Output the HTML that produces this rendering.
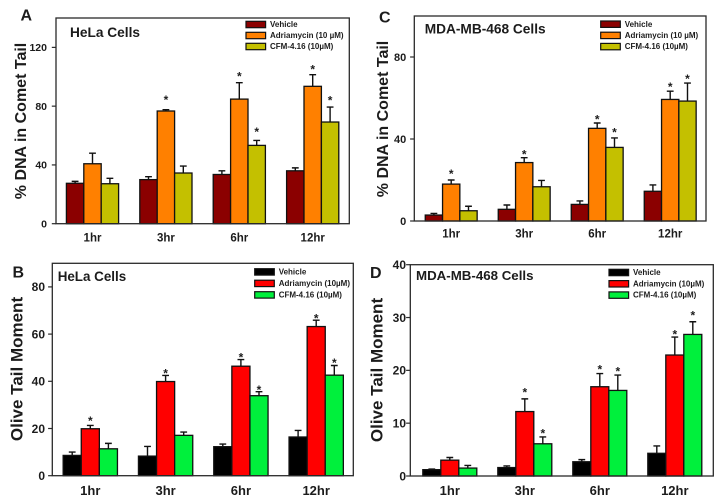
<!DOCTYPE html>
<html>
<head>
<meta charset="utf-8">
<title>Comet assay panels</title>
<style>
html,body{margin:0;padding:0;background:#fff;width:725px;height:502px;overflow:hidden}
svg{display:block;filter:blur(0.35px)}
text{font-family:"Liberation Sans",sans-serif;font-weight:bold;fill:#1c1c1c}
</style>
</head>
<body>
<svg id="figure" xmlns="http://www.w3.org/2000/svg" width="725" height="502" viewBox="0 0 725 502"></svg>
<script>
// Shared categories
const categories = ["1hr", "3hr", "6hr", "12hr"];

// Panel A values
const aVehicle = [27.5, 30, 33.5, 36];
const aVehicleErr = [28.8, 32, 36, 38];
const aAdria = [40.8, 76.7, 84.8, 93.5];
const aAdriaErr = [48, 77.6, 96, 101.4];
const aCfm = [27.2, 34.5, 53.3, 69.2];
const aCfmErr = [30.9, 39.2, 56.7, 79.4];
const aAdriaStars = [null, 85.8, 101.9, 106.6];
const aCfmStars = [null, null, 64, 85.5];
const aTicks = [0, 40, 80, 120];

// Panel B values
const bVehicle = [8.6, 8.3, 12.3, 16.4];
const bVehicleErr = [10, 12.4, 13.4, 19.2];
const bAdria = [19.9, 39.9, 46.4, 63.2];
const bAdriaErr = [21.3, 42.5, 49.2, 65.9];
const bCfm = [11.4, 17.1, 33.9, 42.6];
const bCfmErr = [13.7, 18.5, 35.6, 46.7];
const bAdriaStars = [24.3, 44.4, 51.1, 67.7];
const bCfmStars = [null, null, 37.4, 48.7];
const bTicks = [0, 20, 40, 60, 80];

// Panel C values
const cVehicle = [2.9, 5.7, 8.1, 14.5];
const cVehicleErr = [3.7, 7.8, 9.8, 17.6];
const cAdria = [18, 28.5, 45.2, 59.3];
const cAdriaErr = [20, 30.9, 47.8, 63.3];
const cCfm = [5, 16.7, 35.9, 58.5];
const cCfmErr = [7.2, 19.8, 40.5, 67.3];
const cAdriaStars = [24.2, 33.7, 50.7, 66.5];
const cCfmStars = [null, null, 44.4, 70.4];
const cTicks = [0, 40, 80];

// Panel D values
const dVehicle = [1.2, 1.6, 2.7, 4.3];
const dVehicleErr = [1.3, 1.9, 3.1, 5.7];
const dAdria = [3, 12.2, 16.9, 22.9];
const dAdriaErr = [3.5, 14.6, 19.4, 26.3];
const dCfm = [1.5, 6.1, 16.2, 26.8];
const dCfmErr = [2, 7.4, 19.1, 29.2];
const dAdriaStars = [null, 16.3, 20.6, 27.2];
const dCfmStars = [null, 8.5, 20.2, 30.8];
const dTicks = [0, 10, 20, 30, 40];

const NS = "http://www.w3.org/2000/svg";
const fig = document.getElementById("figure");

function node(parent, tag, props, content) {
  const el = document.createElementNS(NS, tag);
  for (const k in props) el.setAttribute(k, props[k]);
  if (content !== undefined) el.textContent = content;
  parent.appendChild(el);
  return el;
}

function drawPanel(p) {
  const g = node(fig, "g", {});
  
  

  const yOf = v => p.bottom - (v / p.yMax) * (p.bottom - p.top);
  const groupCenter = i => p.x0 + i * p.step;
  const barLeft = (i, s) => groupCenter(i) + (s - 1.5) * p.barW;

  const letter = node(g, "text", {x: p.letter[0], y: p.letter[1], "font-size": 16}, p.id);
  
  

  const sub = node(g, "text", {x: p.title[0], y: p.title[1], "font-size": p.title[2]}, p.titleText);
  
  

  p.series.forEach((s, si) => {
    categories.forEach((cat, i) => {
      const x = barLeft(i, si);
      const cx = x + p.barW / 2;
      const err = node(g, "path", {
        d: "M" + cx + " " + yOf(s.values[i]) + "V" + yOf(s.errors[i]) +
           "M" + (cx - 3.4) + " " + yOf(s.errors[i]) + "H" + (cx + 3.4),
        fill: "none", stroke: "#111", "stroke-width": 1.4
      });
      
      
    });
  });

  p.series.forEach((s, si) => {
    categories.forEach((cat, i) => {
      const x = barLeft(i, si);
      const bar = node(g, "rect", {
        x: x, y: yOf(s.values[i]), width: p.barW,
        height: p.bottom - yOf(s.values[i]),
        fill: s.color, stroke: "#111", "stroke-width": 1.3
      });
      
      
      if (s.stars && s.stars[i] !== null) {
        const star = node(g, "text", {
          x: x + p.barW / 2, y: yOf(s.stars[i]) + 6.4,
          "font-size": 12, "text-anchor": "middle"
        }, "*");
        
        
      }
    });
  });

  const frame = node(g, "rect", {
    x: p.left, y: p.top, width: p.right - p.left, height: p.bottom - p.top,
    fill: "none", stroke: "#2a2a2a", "stroke-width": 1.3
  });
  
  

  p.ticks.forEach(t => {
    const tick = node(g, "line", {
      x1: p.left - 4.2, x2: p.left, y1: yOf(t), y2: yOf(t),
      stroke: "#2a2a2a", "stroke-width": 1.2
    });
    
    
    const lab = node(g, "text", {
      x: p.tickLabelX, y: yOf(t) + p.tickFont * 0.36,
      "font-size": p.tickFont, "text-anchor": "end"
    }, t);
    
    
  });

  categories.forEach((cat, i) => {
    const lab = node(g, "text", {
      x: groupCenter(i), y: p.xLabelY, "font-size": p.xFont, "text-anchor": "middle"
    }, cat);
    
    
  });

  const yt = node(g, "text", {
    x: 0, y: 0, "font-size": p.yTitle[2], "text-anchor": "middle",
    transform: "translate(" + p.yTitle[0] + " " + p.yTitle[1] + ") rotate(-90)"
  }, p.yTitleText);
  
  

  p.series.forEach((s, si) => {
    const swatch = node(g, "rect", {
      x: p.legendX, y: p.legendY + si * p.legendStep, width: 19.6, height: 6.4,
      fill: s.color, stroke: "#111", "stroke-width": 1.2
    });
    
    
    const lab = node(g, "text", {
      x: p.legendX + 24, y: p.legendY + si * p.legendStep + 5.8, "font-size": 8
    }, s.label);
    
    
  });
}

drawPanel({
  id: "A", left: 56, right: 349.3, top: 18, bottom: 223.7, yMax: 140, ticks: aTicks,
  x0: 92.5, step: 73.4, barW: 17.4, tickLabelX: 47, tickFont: 10.5, xLabelY: 241.5, xFont: 11.5,
  letter: [20.5, 20.7], title: [70, 37, 13.7], titleText: "HeLa Cells",
  yTitle: [26, 121, 16], yTitleText: "% DNA in Comet Tail",
  legendX: 246, legendY: 21.3, legendStep: 11,
  series: [
    {key: "vehicle", label: "Vehicle", color: "#8b0000", values: aVehicle, errors: aVehicleErr},
    {key: "adriamycin", label: "Adriamycin (10 µM)", color: "#ff8000", values: aAdria, errors: aAdriaErr, stars: aAdriaStars},
    {key: "cfm", label: "CFM-4.16 (10µM)", color: "#c4c000", values: aCfm, errors: aCfmErr, stars: aCfmStars}
  ]
});

drawPanel({
  id: "B", left: 52.3, right: 353.3, top: 263.3, bottom: 475.7, yMax: 90, ticks: bTicks,
  x0: 90.3, step: 75.3, barW: 18.1, tickLabelX: 45, tickFont: 12, xLabelY: 495, xFont: 13,
  letter: [12.5, 277.7], title: [57.7, 281, 13.4], titleText: "HeLa Cells",
  yTitle: [22.5, 369, 17], yTitleText: "Olive Tail Moment",
  legendX: 254.7, legendY: 268.7, legendStep: 11.5,
  series: [
    {key: "vehicle", label: "Vehicle", color: "#000000", values: bVehicle, errors: bVehicleErr},
    {key: "adriamycin", label: "Adriamycin (10µM)", color: "#ff0000", values: bAdria, errors: bAdriaErr, stars: bAdriaStars},
    {key: "cfm", label: "CFM-4.16 (10µM)", color: "#00f03c", values: bCfm, errors: bCfmErr, stars: bCfmStars}
  ]
});

drawPanel({
  id: "C", left: 414.3, right: 706, top: 16, bottom: 221, yMax: 100, ticks: cTicks,
  x0: 451.2, step: 73, barW: 17.3, tickLabelX: 406.3, tickFont: 11, xLabelY: 237.7, xFont: 11.5,
  letter: [379, 22.7], title: [424.7, 33.3, 13.7], titleText: "MDA-MB-468 Cells",
  yTitle: [388, 119, 16], yTitleText: "% DNA in Comet Tail",
  legendX: 600.7, legendY: 21, legendStep: 11.2,
  series: [
    {key: "vehicle", label: "Vehicle", color: "#8b0000", values: cVehicle, errors: cVehicleErr},
    {key: "adriamycin", label: "Adriamycin (10 µM)", color: "#ff8000", values: cAdria, errors: cAdriaErr, stars: cAdriaStars},
    {key: "cfm", label: "CFM-4.16 (10µM)", color: "#c4c000", values: cCfm, errors: cCfmErr, stars: cCfmStars}
  ]
});

drawPanel({
  id: "D", left: 410.3, right: 713.3, top: 264.7, bottom: 476, yMax: 40, ticks: dTicks,
  x0: 449.8, step: 75, barW: 18, tickLabelX: 406, tickFont: 12, xLabelY: 495, xFont: 13,
  letter: [370, 278], title: [416, 280, 13.3], titleText: "MDA-MB-468 Cells",
  yTitle: [382.5, 370, 17], yTitleText: "Olive Tail Moment",
  legendX: 609, legendY: 269.3, legendStep: 11.3,
  series: [
    {key: "vehicle", label: "Vehicle", color: "#000000", values: dVehicle, errors: dVehicleErr},
    {key: "adriamycin", label: "Adriamycin (10µM)", color: "#ff0000", values: dAdria, errors: dAdriaErr, stars: dAdriaStars},
    {key: "cfm", label: "CFM-4.16 (10µM)", color: "#00f03c", values: dCfm, errors: dCfmErr, stars: dCfmStars}
  ]
});
</script>
</body>
</html>
